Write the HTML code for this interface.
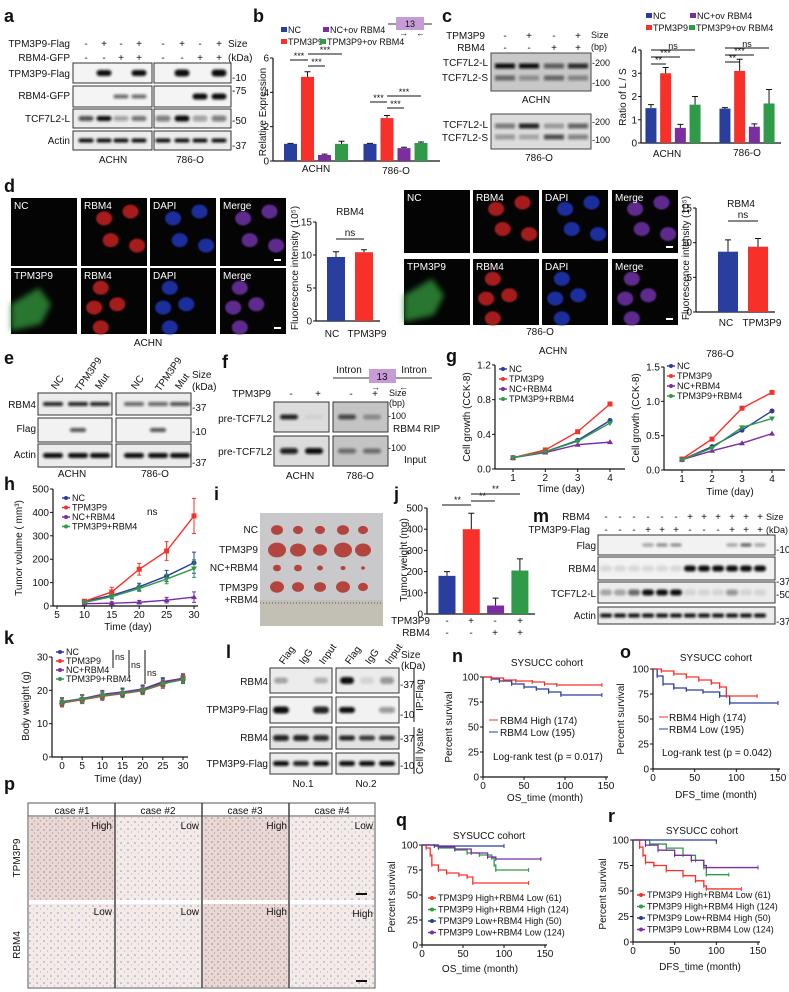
<!DOCTYPE html>
<html><head><meta charset="utf-8">
<style>
html,body{margin:0;padding:0;background:#fff;}
svg{display:block;font-family:"Liberation Sans Narrow","Liberation Sans",sans-serif;}
text{font-size:10px;fill:#111;}
.pl{font-size:18px;font-weight:bold;font-family:"Liberation Sans",sans-serif;}
.w{fill:#fff;font-size:10px;}
.s{font-size:9px;}
</style></head>
<body>
<svg id="fig" width="789" height="992" viewBox="0 0 789 992" xmlns="http://www.w3.org/2000/svg">
<defs>
<filter id="bl" x="-50%" y="-100%" width="200%" height="300%"><feGaussianBlur stdDeviation="1.2"/></filter>
<filter id="bl1" x="-50%" y="-50%" width="200%" height="200%"><feGaussianBlur stdDeviation="0.7"/></filter>
<filter id="bl2" x="-50%" y="-50%" width="200%" height="200%"><feGaussianBlur stdDeviation="3"/></filter>
<pattern id="ihcL" width="7" height="7" patternUnits="userSpaceOnUse"><rect width="7" height="7" fill="#f3ebe8"/><circle cx="2" cy="3" r="0.8" fill="#9a90c4"/><circle cx="5.5" cy="6" r="0.6" fill="#c9a8b0"/></pattern>
<pattern id="ihcH" width="6" height="6" patternUnits="userSpaceOnUse"><rect width="6" height="6" fill="#ead9d2"/><circle cx="2" cy="2" r="0.8" fill="#8f83bd"/><circle cx="4.5" cy="5" r="0.7" fill="#c69a98"/></pattern>
</defs>

<text class="pl" x="4" y="22">a</text>
<text class="pl" x="253" y="22">b</text>
<text class="pl" x="442" y="22">c</text>
<text class="pl" x="4" y="192">d</text>
<text class="pl" x="4" y="364">e</text>
<text class="pl" x="222" y="368">f</text>
<text class="pl" x="446" y="362">g</text>
<text class="pl" x="4" y="490">h</text>
<text class="pl" x="214" y="500">i</text>
<text class="pl" x="394" y="500">j</text>
<text class="pl" x="533" y="522">m</text>
<text class="pl" x="4" y="644">k</text>
<text class="pl" x="226" y="658">l</text>
<text class="pl" x="452" y="662">n</text>
<text class="pl" x="620" y="658">o</text>
<text class="pl" x="4" y="790">p</text>
<text class="pl" x="396" y="826">q</text>
<text class="pl" x="608" y="822">r</text>

<g>
<text x="70" y="47" text-anchor="end">TPM3P9-Flag</text>
<text x="70" y="61" text-anchor="end">RBM4-GFP</text>
<text x="228" y="47">Size</text><text x="228" y="61">(kDa)</text>
<text x="70" y="77" text-anchor="end">TPM3P9-Flag</text>
<text x="70" y="99" text-anchor="end">RBM4-GFP</text>
<text x="70" y="122" text-anchor="end">TCF7L2-L</text>
<text x="70" y="144" text-anchor="end">Actin</text>
<text x="232" y="81">-10</text><text x="232" y="94">-75</text><text x="232" y="124">-50</text><text x="232" y="149">-37</text>
<text x="113" y="163" text-anchor="middle">ACHN</text><text x="190" y="163" text-anchor="middle">786-O</text>
</g>
<g>
<rect x="281" y="27" width="6" height="5" fill="#2a3f9d"/><text x="288" y="33" class="s">NC</text>
<rect x="323" y="27" width="6" height="5" fill="#7a2ea0"/><text x="330" y="33" class="s">NC+ov RBM4</text>
<rect x="281" y="39" width="6" height="5" fill="#f8302a"/><text x="288" y="45" class="s">TPM3P9</text>
<rect x="320" y="39" width="6" height="5" fill="#2f9a48"/><text x="327" y="45" class="s">TPM3P9+ov RBM4</text>
<line x1="388" y1="24" x2="432" y2="24" stroke="#333"/>
<rect x="396" y="17" width="28" height="13" fill="#c79bd6"/><text x="410" y="27" text-anchor="middle" class="s">13</text>
<text x="399" y="36" class="s">→</text><text x="416" y="36" class="s">←</text>
<text transform="translate(266,112) rotate(-90)" text-anchor="middle">Relative Expression</text>
<text x="316" y="172" text-anchor="middle">ACHN</text><text x="396" y="174" text-anchor="middle">786-O</text>
</g>
<g>
<text x="485" y="39" text-anchor="end">TPM3P9</text><text x="485" y="51" text-anchor="end">RBM4</text>
<text x="505" y="39" text-anchor="middle">-</text><text x="529" y="39" text-anchor="middle">+</text><text x="554" y="39" text-anchor="middle">-</text><text x="578" y="39" text-anchor="middle">+</text>
<text x="505" y="51" text-anchor="middle">-</text><text x="529" y="51" text-anchor="middle">-</text><text x="554" y="51" text-anchor="middle">+</text><text x="578" y="51" text-anchor="middle">+</text>
<text x="591" y="38" class="s">Size</text><text x="591" y="50" class="s">(bp)</text>
<text x="488" y="66" text-anchor="end">TCF7L2-L</text><text x="488" y="81" text-anchor="end">TCF7L2-S</text>
<text x="592" y="66" class="s">-200</text><text x="592" y="86" class="s">-100</text>
<text x="536" y="103" text-anchor="middle">ACHN</text>
<text x="488" y="128" text-anchor="end">TCF7L2-L</text><text x="488" y="141" text-anchor="end">TCF7L2-S</text>
<text x="592" y="125" class="s">-200</text><text x="592" y="143" class="s">-100</text>
<text x="539" y="161" text-anchor="middle">786-O</text>
<rect x="646" y="13" width="6" height="5" fill="#2a3f9d"/><text x="653" y="19" class="s">NC</text>
<rect x="690" y="13" width="6" height="5" fill="#7a2ea0"/><text x="697" y="19" class="s">NC+ov RBM4</text>
<rect x="646" y="25" width="6" height="5" fill="#f8302a"/><text x="653" y="31" class="s">TPM3P9</text>
<rect x="689" y="25" width="6" height="5" fill="#2f9a48"/><text x="696" y="31" class="s">TPM3P9+ov RBM4</text>
<text transform="translate(626,97) rotate(-90)" text-anchor="middle">Ratio of L / S</text>
<text x="667" y="157" text-anchor="middle">ACHN</text><text x="747" y="156" text-anchor="middle">786-O</text>
</g>
<g>
<text x="148" y="346" text-anchor="middle">ACHN</text><text x="540" y="335" text-anchor="middle">786-O</text>
<text x="350" y="215" text-anchor="middle">RBM4</text><text x="741" y="207" text-anchor="middle">RBM4</text>
<text transform="translate(298,268) rotate(-90)" text-anchor="middle">Fluorescence intensity (10⁵)</text>
<text transform="translate(689,258) rotate(-90)" text-anchor="middle">Fluorescence intensity (10⁵)</text>
<text x="332" y="337" text-anchor="middle">NC</text><text x="367" y="337" text-anchor="middle">TPM3P9</text>
<text x="726" y="326" text-anchor="middle">NC</text><text x="762" y="326" text-anchor="middle">TPM3P9</text>
<line x1="336" y1="239" x2="364" y2="239" stroke="#111"/><text x="350" y="236" text-anchor="middle">ns</text>
<line x1="728" y1="221" x2="758" y2="221" stroke="#111"/><text x="743" y="218" text-anchor="middle">ns</text>
</g>
<g>
<text transform="translate(56,390) rotate(-55)">NC</text><text transform="translate(80,392) rotate(-55)">TPM3P9</text><text transform="translate(100,390) rotate(-55)">Mut</text>
<text transform="translate(136,390) rotate(-55)">NC</text><text transform="translate(160,392) rotate(-55)">TPM3P9</text><text transform="translate(180,390) rotate(-55)">Mut</text>
<text x="192" y="378">Size</text><text x="192" y="390">(kDa)</text>
<text x="36" y="408" text-anchor="end">RBM4</text><text x="36" y="432" text-anchor="end">Flag</text><text x="36" y="458" text-anchor="end">Actin</text>
<text x="192" y="411">-37</text><text x="192" y="435">-10</text><text x="192" y="466">-37</text>
<text x="72" y="477" text-anchor="middle">ACHN</text><text x="155" y="477" text-anchor="middle">786-O</text>
</g>
<g>
<line x1="333" y1="378" x2="432" y2="378" stroke="#333"/>
<rect x="369" y="369" width="27" height="14" fill="#c79bd6"/><text x="382" y="380" text-anchor="middle">13</text>
<text x="349" y="373" text-anchor="middle">Intron</text><text x="414" y="373" text-anchor="middle">Intron</text>
<text x="371" y="390" class="s">→</text><text x="399" y="390" class="s">←</text>
<text x="271" y="397" text-anchor="end">TPM3P9</text>
<text x="291" y="397" text-anchor="middle">-</text><text x="318" y="397" text-anchor="middle">+</text><text x="351" y="397" text-anchor="middle">-</text><text x="375" y="397" text-anchor="middle">+</text>
<text x="389" y="396" class="s">Size</text><text x="389" y="406" class="s">(bp)</text>
<text x="272" y="422" text-anchor="end">pre-TCF7L2</text><text x="272" y="455" text-anchor="end">pre-TCF7L2</text>
<text x="388" y="419" class="s">-100</text><text x="388" y="451" class="s">-100</text>
<text x="393" y="432">RBM4 RIP</text><text x="404" y="463">Input</text>
<text x="300" y="479" text-anchor="middle">ACHN</text><text x="360" y="479" text-anchor="middle">786-O</text>
</g>
<g>
<text x="553" y="354" text-anchor="middle">ACHN</text><text x="720" y="357" text-anchor="middle">786-O</text>
<text transform="translate(470,417) rotate(-90)" text-anchor="middle">Cell growth (CCK-8)</text>
<text transform="translate(639,418) rotate(-90)" text-anchor="middle">Cell growth (CCK-8)</text>
<text x="561" y="492" text-anchor="middle">Time (day)</text><text x="730" y="495" text-anchor="middle">Time (day)</text>
</g>
<g>
<text transform="translate(22,548) rotate(-90)" text-anchor="middle">Tumor volume ( mm³)</text>
<text x="128" y="630" text-anchor="middle">Time (day)</text>
<text x="147" y="515">ns</text>
</g>
<g>
<text x="258" y="533" text-anchor="end">NC</text><text x="258" y="553" text-anchor="end">TPM3P9</text>
<text x="258" y="571" text-anchor="end">NC+RBM4</text><text x="258" y="591" text-anchor="end">TPM3P9</text><text x="258" y="603" text-anchor="end">+RBM4</text>
</g>
<rect x="260" y="513" width="123" height="113" fill="#c9c8cb"/>
<rect x="260" y="600" width="123" height="26" fill="#c2c0b4"/>
<line x1="260" y1="603" x2="383" y2="603" stroke="#8d8b80" stroke-width="2" stroke-dasharray="1 2"/>
<g>
<text transform="translate(407,560) rotate(-90)" text-anchor="middle">Tumor weight (mg)</text>
<text x="430" y="624" text-anchor="end">TPM3P9</text><text x="430" y="636" text-anchor="end">RBM4</text>
<text x="447" y="624" text-anchor="middle">-</text><text x="471" y="624" text-anchor="middle">+</text><text x="495" y="624" text-anchor="middle">-</text><text x="520" y="624" text-anchor="middle">+</text>
<text x="447" y="636" text-anchor="middle">-</text><text x="471" y="636" text-anchor="middle">-</text><text x="495" y="636" text-anchor="middle">+</text><text x="520" y="636" text-anchor="middle">+</text>
<line x1="442" y1="505" x2="471" y2="505" stroke="#111"/><text x="454" y="503" class="s">**</text>
<line x1="471" y1="501" x2="495" y2="501" stroke="#111"/><text x="479" y="499" class="s">**</text>
<line x1="471" y1="494" x2="520" y2="494" stroke="#111"/><text x="492" y="492" class="s">**</text>
</g>
<g>
<text x="590" y="520" text-anchor="end">RBM4</text><text x="590" y="533" text-anchor="end">TPM3P9-Flag</text>
<text x="766" y="520" class="s">Size</text><text x="766" y="533" class="s">(kDa)</text>
<text x="596" y="549" text-anchor="end">Flag</text><text x="596" y="572" text-anchor="end">RBM4</text>
<text x="596" y="597" text-anchor="end">TCF7L2-L</text><text x="596" y="619" text-anchor="end">Actin</text>
<text x="776" y="553">-10</text><text x="776" y="585">-37</text><text x="776" y="598">-50</text><text x="776" y="625">-37</text>
</g>
<g>
<text transform="translate(29,706) rotate(-90)" text-anchor="middle">Body weight (g)</text>
<text x="118" y="782" text-anchor="middle">Time (day)</text>
<line x1="113" y1="650" x2="113" y2="668" stroke="#111"/><text x="115" y="660" class="s">ns</text>
<line x1="129" y1="650" x2="129" y2="676" stroke="#111"/><text x="131" y="668" class="s">ns</text>
<line x1="145" y1="650" x2="145" y2="684" stroke="#111"/><text x="147" y="676" class="s">ns</text>
</g>
<g>
<text transform="translate(284,665) rotate(-55)">Flag</text><text transform="translate(304,665) rotate(-55)">IgG</text><text transform="translate(324,665) rotate(-55)">Input</text>
<text transform="translate(350,665) rotate(-55)">Flag</text><text transform="translate(370,665) rotate(-55)">IgG</text><text transform="translate(390,665) rotate(-55)">Input</text>
<text x="401" y="658">Size</text><text x="401" y="669">(kDa)</text>
<text x="268" y="685" text-anchor="end">RBM4</text><text x="268" y="713" text-anchor="end">TPM3P9-Flag</text>
<text x="268" y="741" text-anchor="end">RBM4</text><text x="268" y="767" text-anchor="end">TPM3P9-Flag</text>
<text x="400" y="688">-37</text><text x="400" y="718">-10</text><text x="400" y="742">-37</text><text x="400" y="769">-10</text>
<line x1="414" y1="668" x2="414" y2="722" stroke="#111"/><text transform="translate(423,695) rotate(-90)" text-anchor="middle">IP:Flag</text>
<line x1="414" y1="727" x2="414" y2="774" stroke="#111"/><text transform="translate(423,751) rotate(-90)" text-anchor="middle">Cell lysate</text>
<text x="303" y="787" text-anchor="middle">No.1</text><text x="366" y="787" text-anchor="middle">No.2</text>
</g>
<g>
<text x="547" y="666" text-anchor="middle">SYSUCC cohort</text>
<text transform="translate(452,727) rotate(-90)" text-anchor="middle">Percent survival</text>
<text x="545" y="801" text-anchor="middle">OS_time (month)</text>
<text x="500" y="724">RBM4 High (174)</text><text x="500" y="736">RBM4 Low (195)</text>
<line x1="489" y1="720" x2="498" y2="720" stroke="#f8302a"/><line x1="489" y1="732" x2="498" y2="732" stroke="#2a3f9d"/>
<text x="493" y="760">Log-rank test (p = 0.017)</text>
<text x="716" y="661" text-anchor="middle">SYSUCC cohort</text>
<text transform="translate(624,719) rotate(-90)" text-anchor="middle">Percent survival</text>
<text x="716" y="798" text-anchor="middle">DFS_time (month)</text>
<text x="669" y="721">RBM4 High (174)</text><text x="669" y="733">RBM4 Low (195)</text>
<line x1="659" y1="717" x2="668" y2="717" stroke="#f8302a"/><line x1="659" y1="729" x2="668" y2="729" stroke="#2a3f9d"/>
<text x="662" y="756">Log-rank test (p = 0.042)</text>
<text x="489" y="839" text-anchor="middle">SYSUCC cohort</text>
<text transform="translate(395,897) rotate(-90)" text-anchor="middle">Percent survival</text>
<text x="480" y="972" text-anchor="middle">OS_time (month)</text>
<text x="702" y="834" text-anchor="middle">SYSUCC cohort</text>
<text transform="translate(606,894) rotate(-90)" text-anchor="middle">Percent survival</text>
<text x="700" y="970" text-anchor="middle">DFS_time (month)</text>
</g>
<g>
<rect x="28" y="803" width="347" height="185" fill="#fff" stroke="#555"/>
<text x="72" y="814" text-anchor="middle">case #1</text><text x="158" y="814" text-anchor="middle">case #2</text>
<text x="245" y="814" text-anchor="middle">case #3</text><text x="332" y="814" text-anchor="middle">case #4</text>
<line x1="28" y1="816" x2="375" y2="816" stroke="#555"/>
<rect x="29" y="817" width="85" height="83" fill="url(#ihcH)"/><rect x="116" y="817" width="85" height="83" fill="url(#ihcL)"/>
<rect x="203" y="817" width="85" height="83" fill="url(#ihcH)"/><rect x="290" y="817" width="84" height="83" fill="url(#ihcL)"/>
<rect x="29" y="904" width="85" height="83" fill="url(#ihcL)"/><rect x="116" y="904" width="85" height="83" fill="url(#ihcL)"/>
<rect x="203" y="904" width="85" height="83" fill="url(#ihcH)"/><rect x="290" y="904" width="84" height="83" fill="url(#ihcL)"/>
<line x1="115" y1="803" x2="115" y2="988" stroke="#444" stroke-width="1.5"/><line x1="202" y1="803" x2="202" y2="988" stroke="#444" stroke-width="1.5"/><line x1="289" y1="803" x2="289" y2="988" stroke="#444" stroke-width="1.5"/>
<text x="112" y="829" text-anchor="end">High</text><text x="199" y="829" text-anchor="end">Low</text><text x="287" y="829" text-anchor="end">High</text><text x="373" y="829" text-anchor="end">Low</text>
<text x="112" y="915" text-anchor="end">Low</text><text x="199" y="915" text-anchor="end">Low</text><text x="287" y="915" text-anchor="end">High</text><text x="373" y="917" text-anchor="end">High</text>
<rect x="356" y="893" width="11" height="2" fill="#111"/><rect x="356" y="980" width="11" height="2" fill="#111"/>
<text transform="translate(20,858) rotate(-90)" text-anchor="middle">TPM3P9</text>
<text transform="translate(20,945) rotate(-90)" text-anchor="middle">RBM4</text>
</g>

<g id="dyn"></g>
</svg>
<script>
// ===== data =====
const bCats=['ACHN','786-O'];
const bNC=[1.0,1.0], bTPM=[4.9,2.5], bNCov=[0.35,0.75], bTPMov=[1.0,1.05];
const bErr=[[0.03,0.03],[0.3,0.15],[0.05,0.05],[0.15,0.06]];
const cNC=[1.5,1.48], cTPM=[3.0,3.1], cNCov=[0.65,0.7], cTPMov=[1.65,1.7];
const cErr=[[0.15,0.04],[0.25,0.5],[0.15,0.12],[0.35,0.6]];
const dCats=['NC','TPM3P9'];
const dAchn=[9.7,10.4], dAchnErr=[0.8,0.4];
const d786=[8.7,9.4], d786Err=[1.7,1.2];
const gDays=[1,2,3,4];
const gAchnNC=[0.13,0.20,0.33,0.56], gAchnTPM=[0.13,0.22,0.43,0.75], gAchnNCR=[0.13,0.19,0.28,0.31], gAchnTPMR=[0.13,0.20,0.32,0.53];
const g786NC=[0.15,0.34,0.58,0.86], g786TPM=[0.16,0.45,0.90,1.13], g786NCR=[0.15,0.28,0.39,0.53], g786TPMR=[0.15,0.32,0.62,0.75];
const hDays=[10,15,20,25,30];
const hNC=[20,45,82,128,185], hTPM=[20,60,157,235,385], hNCR=[10,12,16,25,38], hTPMR=[15,40,75,115,160];
const hErr=[8,20,25,40,75];
const jGroups=['NC','TPM3P9','NC+RBM4','TPM3P9+RBM4'];
const jWeight=[180,400,40,205], jErr=[20,75,35,55];
const kDays=[0,5,10,15,20,25,30];
const kNC=[16.5,17.4,18.5,19.2,20.2,22.3,23.3], kTPM=[16.2,17.2,18.2,19.0,19.9,21.8,23.8], kNCR=[16.6,17.5,18.8,19.5,20.4,22.6,23.6], kTPMR=[16.4,17.3,18.4,19.1,20.0,22.0,23.2];
const nHigh=[[0,100],[10,99],[25,97],[40,96],[60,95],[75,93],[90,92],[145,92]];
const nLow=[[0,100],[10,98],[20,96],[35,93],[50,90],[65,88],[80,85],[95,82],[145,82]];
const oHigh=[[0,100],[10,98],[25,95],[40,92],[55,89],[70,86],[80,82],[88,73],[125,73]];
const oLow=[[0,100],[5,93],[12,85],[25,81],[40,79],[60,77],[80,73],[92,66],[150,66]];
const qHighLow=[[0,100],[5,97],[10,90],[12,80],[20,75],[30,72],[45,70],[55,68],[62,62],[130,62]];
const qHighHigh=[[0,100],[20,97],[40,95],[55,92],[70,90],[85,87],[88,80],[90,75],[130,75]];
const qLowHigh=[[0,100],[15,99],[100,99]];
const qLowLow=[[0,100],[20,98],[40,96],[60,92],[80,88],[90,86],[145,86]];
const rHighLow=[[0,100],[8,93],[12,85],[15,78],[25,75],[40,70],[60,65],[75,60],[85,55],[88,52],[130,52]];
const rHighHigh=[[0,100],[20,96],[40,92],[60,85],[75,80],[85,73],[88,66],[115,66]];
const rLowHigh=[[0,100],[100,98]];
const rLowLow=[[0,100],[15,95],[30,90],[50,85],[70,80],[85,75],[88,73],[150,73]];
const kmLegend=['TPM3P9 High+RBM4 Low (61)','TPM3P9 High+RBM4 High (124)','TPM3P9 Low+RBM4 High (50)','TPM3P9 Low+RBM4 Low (124)'];
const survTicks=[0,25,50,75,100], monthTicks=[0,50,100,150];

const BLUE='#2a3f9d', RED='#f8302a', PUR='#7a2ea0', GRN='#2f9a48';
const NS='http://www.w3.org/2000/svg';
const root=document.getElementById('dyn');
function mk(tag,attrs,parent){const e=document.createElementNS(NS,tag);for(const k in attrs)e.setAttribute(k,attrs[k]);(parent||root).appendChild(e);return e;}
function lin(d0,d1,r0,r1){return v=>r0+(v-d0)*(r1-r0)/(d1-d0);}

function axisY(x,y,ticks,fmt,name){
  const l=mk('line',{x1:x,x2:x,y1:y(ticks[0]),y2:y(ticks[ticks.length-1]),stroke:'#111','stroke-width':1.2});
  
  
  ticks.forEach(t=>{
    const tk=mk('line',{x1:x-3,x2:x,y1:y(t),y2:y(t),stroke:'#111'});
    
    
    const tx=mk('text',{x:x-4,y:y(t)+3.5,'text-anchor':'end'});tx.textContent=fmt?fmt(t):t;
    
    
  });
}
function axisX(y,x,ticks,x0,x1,name){
  const l=mk('line',{x1:x0,x2:x1,y1:y,y2:y,stroke:'#111','stroke-width':1.2});
  
  
  if(!ticks)return;
  ticks.forEach(t=>{
    const tk=mk('line',{x1:x(t),x2:x(t),y1:y,y2:y+3,stroke:'#111'});
    
    
    const tx=mk('text',{x:x(t),y:y+12,'text-anchor':'middle'});tx.textContent=t;
    
    
  });
}
function barSeries(vals,errs,xc,y,bw,color,name){
  vals.forEach((v,i)=>{
    const x=xc(i);
    const r=mk('rect',{x:x-bw/2,y:y(v),width:bw,height:y(0)-y(v),fill:color});
    
    
    if(errs){
      const e=mk('path',{d:`M${x} ${y(v)} V${y(v+errs[i])} M${x-3} ${y(v+errs[i])} H${x+3}`,stroke:'#111',fill:'none'});
      
      
    }
  });
}
function lineSeries(xs,vals,x,y,color,marker,name,errs){
  let d='';vals.forEach((v,i)=>{d+=(i?'L':'M')+x(xs[i])+' '+y(v);});
  const p=mk('path',{d:d,stroke:color,fill:'none','stroke-width':1.4});
  
  
  vals.forEach((v,i)=>{
    const cx=x(xs[i]),cy=y(v);
    if(errs){
      const e=mk('path',{d:`M${cx} ${cy-errs[i]} V${cy+errs[i]} M${cx-2} ${cy-errs[i]} H${cx+2} M${cx-2} ${cy+errs[i]} H${cx+2}`,stroke:color,fill:'none'});
      
      
    }
    let m;
    if(marker==='s') m=mk('rect',{x:cx-2.5,y:cy-2.5,width:5,height:5,fill:color});
    else if(marker==='t') m=mk('path',{d:`M${cx} ${cy-3}L${cx+3} ${cy+2}L${cx-3} ${cy+2}Z`,fill:color});
    else if(marker==='v') m=mk('path',{d:`M${cx} ${cy+3}L${cx+3} ${cy-2}L${cx-3} ${cy-2}Z`,fill:color});
    else m=mk('circle',{cx:cx,cy:cy,r:2.5,fill:color});
    
    
  });
}
function legendLine(x,y,color,label,name){
  const l=mk('line',{x1:x,x2:x+8,y1:y-3,y2:y-3,stroke:color,'stroke-width':1.5});
  
  
  const c=mk('circle',{cx:x+4,cy:y-3,r:2,fill:color});
  
  
  const t=mk('text',{x:x+10,y:y,class:'s'});t.textContent=label;
  
  
}
function km(pts,x,y,color,name){
  let d='M'+x(pts[0][0])+' '+y(pts[0][1]);
  for(let i=1;i<pts.length;i++){d+='H'+x(pts[i][0])+'V'+y(pts[i][1]);}
  const p=mk('path',{d:d,stroke:color,fill:'none','stroke-width':1.3});
  
  
  pts.forEach((q,i)=>{ if(i>0){
    const c=mk('line',{x1:x(q[0]),x2:x(q[0]),y1:y(q[1])-2,y2:y(q[1])+2,stroke:color});
    
    
  }});
}
function blot(x,y,w,h,lanes,ints,bw,bh,bg,name){
  const r=mk('rect',{x:x,y:y,width:w,height:h,fill:bg,stroke:'#333','stroke-width':1});
  
  
  lanes.forEach((lx,i)=>{ if(ints[i]>0.02){
    const b=mk('rect',{x:lx-bw/2,y:y+h/2-bh/2,width:bw,height:bh,rx:bh/2,fill:'#111','fill-opacity':ints[i],filter:'url(#bl)'});
    
    
  }});
}
function sign(x,y,s,name){const t=mk('text',{x:x,y:y,'text-anchor':'middle'});t.textContent=s;
  
  }

// panel a
const aL=[86,104,121,139], aR=[163,182,200,219];
['-','+','-','+'].forEach((s,i)=>{sign(aL[i],47,s,'a-tpm3p9-sign');sign(aR[i],47,s,'a-tpm3p9-sign');});
['-','-','+','+'].forEach((s,i)=>{sign(aL[i],61,s,'a-rbm4-sign');sign(aR[i],61,s,'a-rbm4-sign');});
blot(73,63,79,20,aL,[0,1,0,1],15,6,'#f4f4f4','a-flag');blot(154,63,77,20,aR,[0,1,0,1],15,7,'#f4f4f4','a-flag');
blot(73,86,79,21,aL,[0,0,0.6,0.6],15,4,'#f4f4f4','a-gfp');blot(154,86,77,21,aR,[0,0,1,1],15,6,'#f4f4f4','a-gfp');
blot(73,109,79,19,aL,[0.7,1,0.35,0.55],15,5,'#ececec','a-tcf');blot(154,109,77,19,aR,[0.5,1,0.3,0.5],15,6,'#ececec','a-tcf');
blot(73,131,79,19,aL,[1,1,1,1],15,4,'#ececec','a-actin');blot(154,131,77,19,aR,[1,1,1,1],15,4,'#ececec','a-actin');

// panel b
{const y=lin(0,6,161,58); const gx=i=>316+i*79.5;
 axisY(273,y,[0,2,4,6],null,'b');axisX(161,null,null,273,440,'b');
 [bNC,bTPM,bNCov,bTPMov].forEach((s,k)=>barSeries(s,bErr[k],i=>gx(i)+(k-1.5)*17,y,13,[BLUE,RED,PUR,GRN][k],'b-'+['nc','tpm3p9','nc-ov','tpm3p9-ov'][k]));
 const sig=[[290,308,60],[308,325,66],[308,342,54],[370,387,102],[387,404,108],[387,421,96]];
 sig.forEach(s=>{const l=mk('line',{x1:s[0],x2:s[1],y1:s[2],y2:s[2],stroke:'#111'});
   
   
   const t=mk('text',{x:(s[0]+s[1])/2,y:s[2]-1,'text-anchor':'middle',class:'s'});t.textContent='***';
   
   });
}
// panel c
{const lanes=[505,529,554,578];
 const g1=mk('rect',{x:491,y:53,width:100,height:38,fill:'#c8c8c8',stroke:'#444'});
 
 
 const g2=mk('rect',{x:491,y:114,width:100,height:35,fill:'#dcdcdc',stroke:'#444'});
 
 
 const L1=[1,1,0.6,0.85],S1=[0.55,0.35,0.55,0.4],L2=[0.5,0.9,0.3,0.6],S2=[0.35,0.25,0.7,0.45];
 lanes.forEach((lx,i)=>{
  [[66,L1[i]],[78,S1[i]],[126,L2[i]],[137,S2[i]]].forEach(b=>{
   const r=mk('rect',{x:lx-10,y:b[0]-2.5,width:20,height:5,fill:'#111','fill-opacity':b[1],filter:'url(#bl)'});
   
   });
 });
 const y=lin(0,4,143,50); const gx=i=>673+i*74;
 axisY(641,y,[0,1,2,3,4],null,'c');axisX(143,null,null,641,781,'c');
 [cNC,cTPM,cNCov,cTPMov].forEach((s,k)=>barSeries(s,cErr[k],i=>gx(i)+(k-1.5)*14.7,y,11,[BLUE,RED,PUR,GRN][k],'c-'+['nc','tpm3p9','nc-ov','tpm3p9-ov'][k]));
 const sig=[[651,666,64,'**'],[651,680,57,'***'],[651,695,50,'ns'],[725,740,62,'**'],[725,754,55,'***'],[725,769,48,'ns']];
 sig.forEach(s=>{const l=mk('line',{x1:s[0],x2:s[1],y1:s[2],y2:s[2],stroke:'#111'});
   
   
   const t=mk('text',{x:(s[0]+s[1])/2,y:s[2]-1,'text-anchor':'middle',class:'s'});t.textContent=s[3];
   
   });
}
// panel d images
function fluoGroup(xs,rows){
  rows.forEach((row,ri)=>{
    xs.forEach((x,ci)=>{
      const r=mk('rect',{x:x,y:row[0],width:66,height:row[1],fill:'#040404'});
      
      
      if(ci===0&&ri===1){
        const g=mk('path',{d:`M${x} ${row[0]+row[1]*0.55} L${x+28} ${row[0]+row[1]*0.3} L${x+40} ${row[0]+row[1]*0.55} L${x+30} ${row[0]+row[1]*0.85} L${x} ${row[0]+row[1]*0.95}Z`,fill:'#2f8a35','fill-opacity':0.85,filter:'url(#bl2)'});
        
        }
      if(ci>0){const col=['','#a51a1e','#1b2e9e','#5e2a8e'][ci];
        const nuc=ri?[[0.3,0.3],[0.2,0.6],[0.55,0.55],[0.3,0.9]]:[[0.35,0.3],[0.75,0.2],[0.45,0.62],[0.85,0.7]];
        nuc.forEach(n=>{
          const e=mk('ellipse',{cx:x+66*n[0],cy:row[0]+row[1]*n[1],rx:8,ry:7,fill:col,filter:'url(#bl1)'});
          
          });}
      if(ci===3){const sb=mk('rect',{x:x+54,y:row[0]+row[1]-7,width:7,height:2,fill:'#fff'});
        
        }
      const t=mk('text',{x:x+3,y:row[0]+11,class:'w'});t.textContent=[ri?'TPM3P9':'NC','RBM4','DAPI','Merge'][ci];
      
      
    });
  });
}
fluoGroup([11,81,150,220],[[198,68],[268,66]]);
fluoGroup([404,473,542,612],[[190,63],[259,66]]);
{const y=lin(0,15,321,222);
 axisY(316,y,[0,5,10,15],null,'d-achn');axisX(321,null,null,316,380,'d-achn');
 barSeries(dAchn,dAchnErr,i=>336+i*28,y,18,BLUE,'d-achn');
 const r=mk('rect',{x:355,y:y(dAchn[1]),width:18,height:y(0)-y(dAchn[1]),fill:RED});
 
 
 const y2=lin(0,15,312,208);
 axisY(696,y2,[0,5,10,15],null,'d-786o');axisX(312,null,null,696,775,'d-786o');
 barSeries(d786,d786Err,i=>728+i*30,y2,20,BLUE,'d-786o');
 const r2=mk('rect',{x:748,y:y2(d786[1]),width:20,height:y2(0)-y2(d786[1]),fill:RED});
 
 
}
// panel e
{const L=[53,78,100],R=[134,158,180];
 blot(38,393,74,22,L,[0.9,0.9,0.9],20,4,'#ececec','e-rbm4');blot(116,393,75,22,R,[0.6,0.6,0.7],20,4,'#ececec','e-rbm4');
 blot(38,418,74,24,L,[0,0.7,0],16,4,'#f2f2f2','e-flag');blot(116,418,75,24,R,[0,0.7,0],16,4,'#f2f2f2','e-flag');
 blot(38,444,74,23,L,[1,1,1],20,5,'#ececec','e-actin');blot(116,444,75,23,R,[1,1,1],20,5,'#ececec','e-actin');}
// panel f
blot(274,402,55,30,[289,314],[0.9,0.05],18,5,'#dcdcdc','f-rip');blot(333,402,55,30,[347,372],[0.7,0.3],18,5,'#c4c4c4','f-rip');
blot(274,436,55,30,[289,314],[0.9,1],18,6,'#dcdcdc','f-input');blot(333,436,55,30,[347,372],[0.5,0.5],18,5,'#c4c4c4','f-input');
// panel g
{const x=lin(1,4,513,610),y=lin(0,1.2,469,365);
 axisY(495,y,[0,0.4,0.8,1.2],t=>t.toFixed(1),'g-achn');axisX(469,x,gDays,495,625,'g-achn');
 lineSeries(gDays,gAchnNC,x,y,BLUE,'c','g-achn-nc');lineSeries(gDays,gAchnTPM,x,y,RED,'s','g-achn-tpm3p9');
 lineSeries(gDays,gAchnNCR,x,y,PUR,'t','g-achn-nc-rbm4');lineSeries(gDays,gAchnTPMR,x,y,GRN,'v','g-achn-tpm3p9-rbm4');
 const x2=lin(1,4,682,772),y2=lin(0,1.5,470,367);
 axisY(664,y2,[0,0.5,1.0,1.5],t=>t.toFixed(1),'g-786o');axisX(470,x2,gDays,664,785,'g-786o');
 lineSeries(gDays,g786NC,x2,y2,BLUE,'c','g-786o-nc');lineSeries(gDays,g786TPM,x2,y2,RED,'s','g-786o-tpm3p9');
 lineSeries(gDays,g786NCR,x2,y2,PUR,'t','g-786o-nc-rbm4');lineSeries(gDays,g786TPMR,x2,y2,GRN,'v','g-786o-tpm3p9-rbm4');
 const labs=['NC','TPM3P9','NC+RBM4','TPM3P9+RBM4'],cols=[BLUE,RED,PUR,GRN];
 labs.forEach((l,i)=>{legendLine(499,372+i*10,cols[i],l,'g-achn');legendLine(667,369+i*10,cols[i],l,'g-786o');});
}
// panel h
{const x=lin(5,30,57,194),y=lin(0,500,606,489);
 axisY(53,y,[0,100,200,300,400,500],null,'h');axisX(606,x,[5,10,15,20,25,30],53,198,'h');
 const errs=hErr.map(e=>y(0)-y(e));
 lineSeries(hDays,hNC,x,y,BLUE,'c','h-nc',errs.map(e=>e*0.6));lineSeries(hDays,hTPM,x,y,RED,'s','h-tpm3p9',errs);
 lineSeries(hDays,hNCR,x,y,PUR,'t','h-nc-rbm4',errs.map(e=>e*0.3));lineSeries(hDays,hTPMR,x,y,GRN,'v','h-tpm3p9-rbm4',errs.map(e=>e*0.5));
 ['NC','TPM3P9','NC+RBM4','TPM3P9+RBM4'].forEach((l,i)=>legendLine(62,501+i*9.5,[BLUE,RED,PUR,GRN][i],l,'h'));
}
// panel i tumors
{const rowY=[530,550,568,587], colX=[277,298,320,343,363], sizes=[[6,5,5,6,5],[9,8,7,9,8],[4,4,3,2.5,2],[7,6,6,7,5]];
 sizes.forEach((row,ri)=>row.forEach((s,ci)=>{
   const e=mk('ellipse',{cx:colX[ci],cy:rowY[ri],rx:s,ry:s*0.82,fill:'#b4453e'});
   
   }));}
// panel j
{const y=lin(0,500,614,508);
 axisY(427,y,[0,100,200,300,400,500],null,'j');axisX(614,null,null,427,535,'j');
 jWeight.forEach((v,i)=>barSeries([v],[jErr[i]],()=>447+i*24.3,y,17,[BLUE,RED,PUR,GRN][i],'j-'+jGroups[i]));}
// panel m
{const lanes=[];for(let i=0;i<12;i++)lanes.push(606+i*14);
 const rb=['-','-','-','-','-','-','+','+','+','+','+','+'],tp=['-','-','-','+','+','+','-','-','-','+','+','+'];
 lanes.forEach((lx,i)=>{sign(lx,520,rb[i],'m-rbm4-sign');sign(lx,533,tp[i],'m-tpm3p9-sign');});
 blot(598,535,177,20,lanes,[0,0,0,0.4,0.5,0.5,0,0,0,0.4,0.7,0.4],11,3,'#f2f2f2','m-flag');
 blot(598,557,177,23,lanes,[0.1,0.1,0.1,0.1,0.1,0.1,1,1,1,1,1,1],12,6,'#f2f2f2','m-rbm4');
 blot(598,582,177,21,lanes,[0.3,0.3,0.6,1,1,1,0.1,0.1,0.1,0.4,0.1,0.1],12,6,'#ececec','m-tcf');
 blot(598,607,177,17,lanes,[1,1,1,1,1,1,1,1,1,1,1,1],12,4,'#ececec','m-actin');}
// panel k
{const x=lin(0,30,62,183),y=lin(0,30,757,657);
 axisY(52,y,[0,10,20,30],null,'k');axisX(757,x,kDays,52,188,'k');
 const e=kDays.map(()=>4);
 lineSeries(kDays,kNC,x,y,BLUE,'c','k-nc',e);lineSeries(kDays,kTPM,x,y,RED,'s','k-tpm3p9',e);
 lineSeries(kDays,kNCR,x,y,PUR,'t','k-nc-rbm4',e);lineSeries(kDays,kTPMR,x,y,GRN,'v','k-tpm3p9-rbm4',e);
 ['NC','TPM3P9','NC+RBM4','TPM3P9+RBM4'].forEach((l,i)=>legendLine(56,655+i*9,[BLUE,RED,PUR,GRN][i],l,'k'));}
// panel l
{const L=[281,301,321],R=[347,367,387];
 blot(270,668,62,25,L,[0.3,0,0.25],14,6,'#ececec','l-ip-rbm4');blot(336,668,63,25,R,[1,0.1,0.4],14,7,'#ececec','l-ip-rbm4');
 blot(270,697,62,26,L,[1,0,0.9],16,7,'#f2f2f2','l-ip-flag');blot(336,697,63,26,R,[1,0,0.4],16,6,'#f2f2f2','l-ip-flag');
 blot(270,727,62,22,L,[0.9,0.9,0.85],16,6,'#e4e4e4','l-lys-rbm4');blot(336,727,63,22,R,[0.9,0.8,0.8],16,5,'#e4e4e4','l-lys-rbm4');
 blot(270,753,62,21,L,[1,0.9,1],16,5,'#ececec','l-lys-flag');blot(336,753,63,21,R,[1,1,1],16,5,'#ececec','l-lys-flag');}
// KM
function kmAxes(ax,ay,x,y,name){axisY(ax,y,survTicks,null,name);axisX(y(0),x,monthTicks,ax,x(150)+2,name);}
{const x=lin(0,150,483,606),y=lin(0,100,777,677);kmAxes(483,677,x,y,'n');km(nLow,x,y,BLUE,'n-rbm4-low');km(nHigh,x,y,RED,'n-rbm4-high');}
{const x=lin(0,150,653,778),y=lin(0,100,769,669);kmAxes(653,669,x,y,'o');km(oLow,x,y,BLUE,'o-rbm4-low');km(oHigh,x,y,RED,'o-rbm4-high');}
{const x=lin(0,150,422,545),y=lin(0,100,945,845);kmAxes(422,845,x,y,'q');
 km(qHighLow,x,y,RED,'q-high-low');km(qHighHigh,x,y,GRN,'q-high-high');km(qLowHigh,x,y,BLUE,'q-low-high');km(qLowLow,x,y,PUR,'q-low-low');
 kmLegend.forEach((l,i)=>legendLine(428,901+i*11.5,[RED,GRN,BLUE,PUR][i],l,'q'));}
{const x=lin(0,150,633,758),y=lin(0,100,942,840);kmAxes(633,840,x,y,'r');
 km(rHighLow,x,y,RED,'r-high-low');km(rHighHigh,x,y,GRN,'r-high-high');km(rLowHigh,x,y,BLUE,'r-low-high');km(rLowLow,x,y,PUR,'r-low-low');
 kmLegend.forEach((l,i)=>legendLine(637,898+i*11.5,[RED,GRN,BLUE,PUR][i],l,'r'));}
</script>
</body></html>
